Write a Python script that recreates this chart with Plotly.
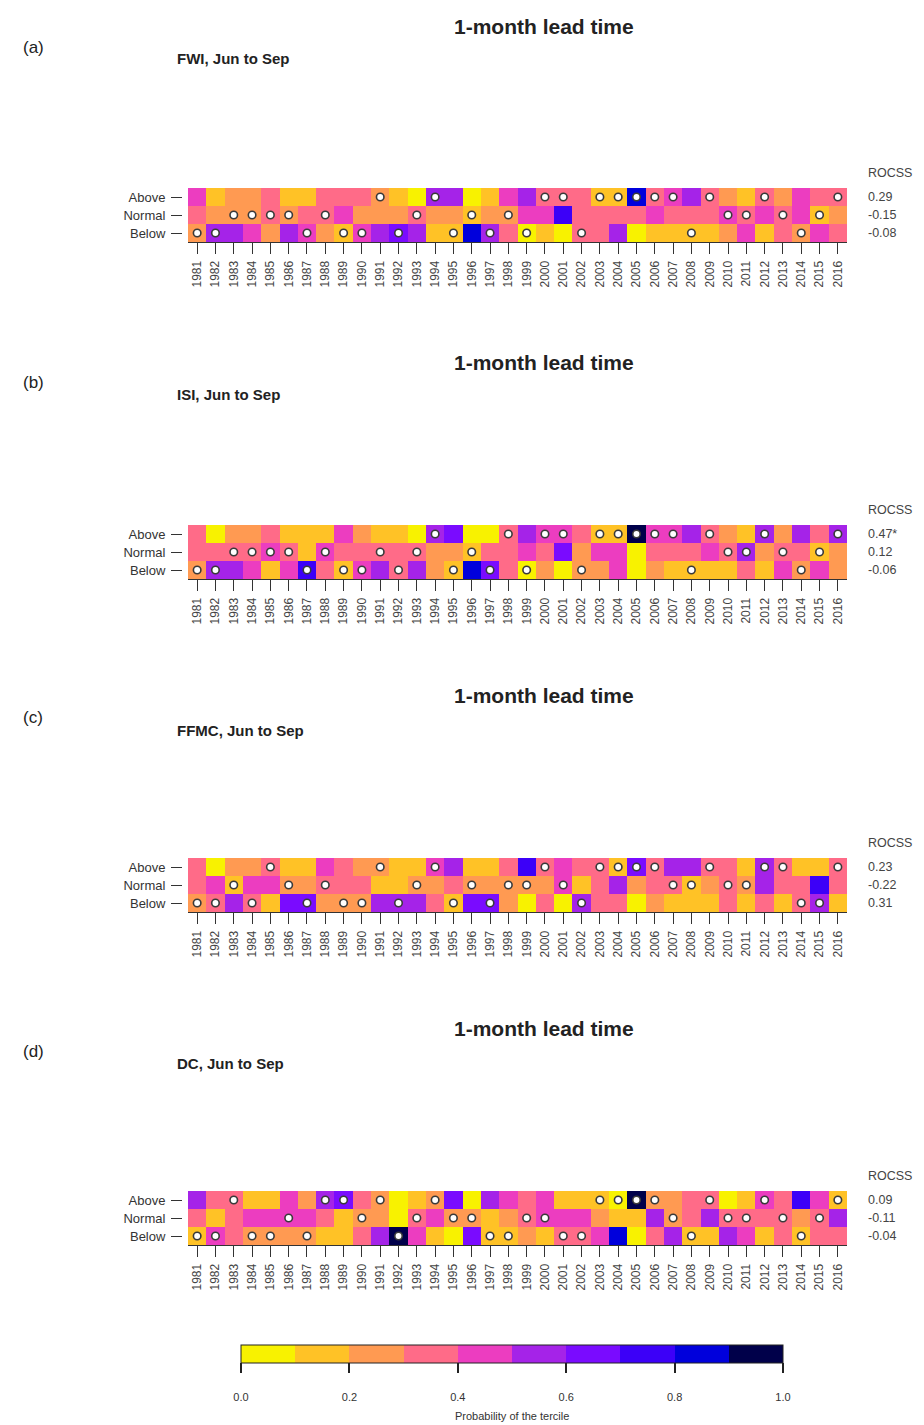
import plotly.graph_objects as go

W, H = 924, 1425
years = [str(y) for y in range(1981, 2017)]
row_labels = ["Below", "Normal", "Above"]
obs_code = {"B": 0, "N": 1, "A": 2}

# ---- panel (a) FWI ----
fwi_above = [.45,.15,.25,.25,.35,.15,.15,.35,.35,.35,.25,.15,.05,.55,.55,.05,.15,.45,.55,.35,.35,.35,.15,.15,.85,.35,.45,.55,.35,.25,.15,.35,.25,.45,.35,.35]
fwi_normal = [.35,.25,.25,.25,.35,.25,.35,.35,.45,.25,.25,.25,.35,.25,.25,.15,.25,.25,.45,.45,.75,.35,.35,.35,.35,.45,.35,.35,.35,.45,.35,.45,.35,.45,.15,.25]
fwi_below = [.25,.55,.55,.45,.25,.55,.45,.25,.15,.45,.55,.65,.55,.15,.15,.85,.55,.35,.05,.15,.05,.35,.35,.55,.05,.15,.15,.15,.15,.25,.45,.15,.35,.25,.45,.35]
fwi_obs = list("BBNNNNBNBBABNABNBNBAABAAAAABANNANBNA")
fwi_rocss = ["0.29", "-0.15", "-0.08"]

# ---- panel (b) ISI ----
isi_above = [.35,.05,.25,.25,.35,.15,.15,.15,.45,.25,.15,.15,.05,.55,.65,.05,.05,.35,.55,.45,.45,.35,.15,.15,.95,.45,.45,.55,.35,.25,.15,.55,.25,.55,.35,.55]
isi_normal = [.35,.35,.35,.35,.45,.35,.15,.45,.35,.35,.35,.35,.35,.25,.25,.15,.35,.35,.45,.35,.65,.25,.45,.45,.05,.35,.35,.35,.45,.35,.55,.25,.35,.35,.15,.25]
isi_below = [.25,.55,.55,.45,.15,.45,.75,.35,.15,.45,.55,.35,.55,.25,.15,.85,.65,.35,.05,.25,.05,.25,.25,.45,.05,.25,.15,.15,.15,.15,.35,.15,.45,.25,.45,.25]
isi_obs = list("BBNNNNBNBBNBNABNBABAABAAAAABANNANBNA")
isi_rocss = ["0.47*", "0.12", "-0.06"]

# ---- panel (c) FFMC ----
ffmc_above = [.35,.05,.25,.25,.35,.15,.15,.45,.35,.25,.25,.15,.15,.45,.55,.15,.15,.35,.75,.35,.45,.35,.35,.15,.65,.35,.55,.55,.35,.35,.15,.55,.35,.15,.15,.35]
ffmc_normal = [.35,.45,.15,.45,.45,.25,.25,.35,.35,.35,.15,.15,.25,.25,.35,.25,.25,.25,.25,.25,.45,.15,.35,.55,.25,.35,.35,.15,.25,.35,.25,.55,.35,.35,.75,.35]
ffmc_below = [.25,.35,.55,.35,.15,.65,.65,.25,.25,.25,.55,.55,.55,.35,.15,.65,.65,.25,.05,.35,.05,.55,.35,.35,.05,.25,.15,.15,.15,.35,.15,.35,.15,.35,.55,.15]
ffmc_obs = list("BBNBANBNBBABNABNBNNANBAAAANNANNAABBA")
ffmc_rocss = ["0.23", "-0.22", "0.31"]

# ---- panel (d) DC ----
dc_above = [.55,.35,.35,.15,.15,.45,.25,.55,.65,.35,.25,.05,.15,.25,.65,.05,.55,.45,.35,.45,.15,.15,.15,.05,.95,.25,.25,.35,.35,.05,.15,.45,.35,.75,.45,.15]
dc_normal = [.35,.15,.35,.45,.45,.45,.45,.35,.15,.25,.25,.05,.35,.45,.25,.25,.15,.25,.35,.45,.45,.45,.25,.15,.15,.55,.25,.35,.55,.35,.35,.35,.35,.25,.35,.55]
dc_below = [.15,.45,.35,.25,.25,.25,.25,.15,.15,.35,.55,.95,.45,.15,.05,.65,.15,.15,.25,.15,.35,.35,.45,.85,.05,.35,.55,.15,.15,.55,.45,.15,.35,.15,.35,.35]
dc_obs = list("BBABBNBAANABNANNBBNNBBAAAANBANNANBNA")
dc_rocss = ["0.09", "-0.11", "-0.04"]

panel_tags = ["(a)", "(b)", "(c)", "(d)"]
panel_subtitles = ["FWI, Jun to Sep", "ISI, Jun to Sep", "FFMC, Jun to Sep", "DC, Jun to Sep"]
main_title = "1-month lead time"
cbar_ticks = [0, 0.2, 0.4, 0.6, 0.8, 1.0]
cbar_ticktext = ["0.0", "0.2", "0.4", "0.6", "0.8", "1.0"]
cbar_title = "Probability of the tercile"

bin_colors = ["#F8F200", "#FFC226", "#FF9A52", "#FF6B88", "#EC3DC0",
              "#A523E8", "#7A0BFF", "#3C00F8", "#0000DC", "#00004A"]
colorscale = []
for i, c in enumerate(bin_colors):
    colorscale.append([i / 10, c])
    colorscale.append([(i + 1) / 10, c])

panels = [
    (fwi_above, fwi_normal, fwi_below, fwi_obs, fwi_rocss),
    (isi_above, isi_normal, isi_below, isi_obs, isi_rocss),
    (ffmc_above, ffmc_normal, ffmc_below, ffmc_obs, ffmc_rocss),
    (dc_above, dc_normal, dc_below, dc_obs, dc_rocss),
]

OFF = 8  # page body margin

def px(x):
    return (x - OFF) / W

def py(y):
    return 1 - (y - OFF) / H

hm_top = [188, 525, 858, 1191]
hm_h = 54
x0, x1 = 188, 847
title_y = [27, 362, 695, 1028]
tag_y = [47, 383, 717, 1051]
sub_y = [59, 395, 730, 1063]

fig = go.Figure()
annotations = []
FONT = "Liberation Sans, Arial, sans-serif"

for k, (ab, no, be, ob, rs) in enumerate(panels):
    xa = "x" if k == 0 else f"x{k+1}"
    ya = "y" if k == 0 else f"y{k+1}"
    fig.add_trace(go.Heatmap(
        x=list(range(36)), y=[0, 1, 2], z=[be, no, ab],
        zmin=0, zmax=1, colorscale=colorscale,
        showscale=(k == 0), xaxis=xa, yaxis=ya, hoverinfo="skip",
        colorbar=dict(
            orientation="h", x=px(241), xanchor="left", y=py(1345), yanchor="top",
            len=542 / W, lenmode="fraction", thickness=18, thicknessmode="pixels",
            outlinewidth=1, outlinecolor="#222", xpad=0, ypad=0,
            tickvals=cbar_ticks,
            ticktext=["<br>" + t for t in cbar_ticktext],
            ticks="outside", ticklen=10, tickwidth=1.5, tickcolor="#222",
            tickfont=dict(size=11, color="#333", family=FONT),
        ) if k == 0 else None,
    ))
    fig.add_trace(go.Scatter(
        x=list(range(36)), y=[obs_code[o] for o in ob], mode="markers",
        marker=dict(symbol="circle", size=7.5, color="white",
                    line=dict(color="#3a3a3a", width=1.6)),
        xaxis=xa, yaxis=ya, hoverinfo="skip", showlegend=False,
    ))
    top = hm_top[k]
    dom_y = [py(top + hm_h), py(top)]
    axx = dict(domain=[px(x0), px(x1)], range=[-0.5, 35.5], anchor=ya,
               tickvals=list(range(36)), ticktext=years, tickangle=-90,
               ticks="outside", ticklen=11, tickcolor="#333",
               tickfont=dict(size=12, color="#444", family=FONT),
               ticklabelstandoff=2, showgrid=False, zeroline=False,
               showline=True, linecolor="#333", linewidth=1, fixedrange=True)
    axy = dict(domain=dom_y, range=[-0.5, 2.5], anchor="free", position=px(182),
               tickvals=[0, 1, 2], ticktext=row_labels,
               ticks="outside", ticklen=11, tickcolor="#333",
               tickfont=dict(size=13, color="#333", family=FONT),
               ticklabelstandoff=3, showgrid=False, zeroline=False,
               showline=False, fixedrange=True)
    fig.update_layout(**{("xaxis" if k == 0 else f"xaxis{k+1}"): axx,
                         ("yaxis" if k == 0 else f"yaxis{k+1}"): axy})

    annotations.append(dict(text=f"<b>{main_title}</b>", x=px(544), y=py(title_y[k]),
                            xref="paper", yref="paper", showarrow=False,
                            xanchor="center", yanchor="middle",
                            font=dict(size=21, color="#222", family=FONT)))
    annotations.append(dict(text=panel_tags[k], x=px(21), y=py(tag_y[k]),
                            xref="paper", yref="paper", showarrow=False,
                            xanchor="left", yanchor="middle",
                            font=dict(size=17, color="#222", family=FONT)))
    annotations.append(dict(text=f"<b>{panel_subtitles[k]}</b>", x=px(175), y=py(sub_y[k]),
                            xref="paper", yref="paper", showarrow=False,
                            xanchor="left", yanchor="middle",
                            font=dict(size=15, color="#222", family=FONT)))
    annotations.append(dict(text="ROCSS", x=px(866), y=py(top - 15),
                            xref="paper", yref="paper", showarrow=False,
                            xanchor="left", yanchor="middle",
                            font=dict(size=12.5, color="#444", family=FONT)))
    for j, v in enumerate(rs):
        annotations.append(dict(text=v, x=px(866), y=py(top + 9 + 18 * j),
                                xref="paper", yref="paper", showarrow=False,
                                xanchor="left", yanchor="middle",
                                font=dict(size=12.5, color="#444", family=FONT)))

annotations.append(dict(text=cbar_title, x=px(512), y=py(1416),
                        xref="paper", yref="paper", showarrow=False,
                        xanchor="center", yanchor="middle",
                        font=dict(size=11, color="#333", family=FONT)))

fig.update_layout(width=W, height=H, margin=dict(l=0, r=0, t=0, b=0),
                  paper_bgcolor="white", plot_bgcolor="white",
                  showlegend=False, annotations=annotations,
                  font=dict(family=FONT))
fig.write_html("out.html")
